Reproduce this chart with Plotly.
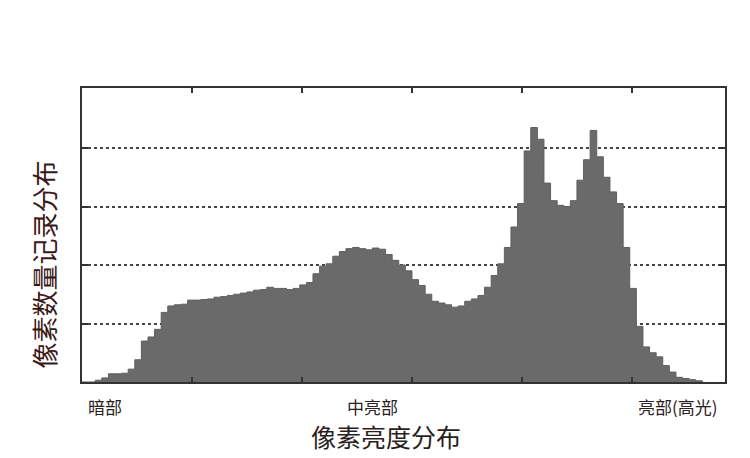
import plotly.graph_objects as go

# brightness bins (left edge of each 3-unit bin) and pixel counts (arbitrary units)
bins = list(range(0, 285, 3))
counts = [
    0.00, 0.00, 0.03, 0.07, 0.14, 0.14, 0.15, 0.22, 0.38, 0.70,
    0.77, 0.90, 1.19, 1.30, 1.32, 1.33, 1.40, 1.40, 1.41, 1.42,
    1.45, 1.46, 1.48, 1.50, 1.52, 1.54, 1.57, 1.58, 1.62, 1.60,
    1.60, 1.58, 1.60, 1.66, 1.70, 1.85, 1.98, 2.02, 2.15, 2.23,
    2.28, 2.30, 2.28, 2.26, 2.29, 2.27, 2.18, 2.08, 2.00, 1.90,
    1.75, 1.65, 1.50, 1.38, 1.35, 1.32, 1.28, 1.30, 1.38, 1.42,
    1.48, 1.62, 1.82, 2.02, 2.30, 2.65, 3.05, 3.95, 4.35, 4.15,
    3.40, 3.10, 3.02, 3.00, 3.10, 3.45, 3.80, 4.30, 3.85, 3.50,
    3.25, 3.05, 2.30, 1.60, 0.95, 0.60, 0.50, 0.43, 0.28, 0.17,
    0.08, 0.06, 0.04, 0.02, 0.00,
]
x_ticks = [50, 100, 150, 200, 250]
y_ticks = [1, 2, 3, 4]
zone_labels = ["暗部", "中亮部", "亮部(高光)"]
zone_pos = [10.5, 132, 271]
x_title = "像素亮度分布"
y_title = "像素数量记录分布"

font_cjk = "Noto Sans CJK SC"

fig = go.Figure()
fig.add_trace(go.Scatter(
    x=bins, y=counts, mode="lines", line_shape="hv",
    line=dict(color="#5f5f5f", width=1),
    fill="tozeroy", fillcolor="#6a6a6a", hoverinfo="skip",
))

for lab, pos in zip(zone_labels, zone_pos):
    fig.add_annotation(
        x=pos, xref="x", y=0, yref="paper", yanchor="top", yshift=-10,
        text=lab, showarrow=False,
        font=dict(family=font_cjk, size=17, color="#2a2222"),
    )

fig.add_annotation(
    x=138, xref="x", y=0, yref="paper", yanchor="middle", yshift=-54,
    text=x_title, showarrow=False,
    font=dict(family=font_cjk, size=25, color="#2a1e1e"),
)
fig.add_annotation(
    x=0, xref="paper", xshift=-39, xanchor="center",
    y=0.40, yref="paper", yanchor="middle",
    text=y_title, textangle=-90, showarrow=False,
    font=dict(family=font_cjk, size=26, color="#3b1818"),
)

fig.update_xaxes(
    range=[0, 292.3], tickvals=x_ticks, showticklabels=False,
    ticks="inside", ticklen=5, tickwidth=1.5, tickcolor="#333",
    showline=True, linewidth=1.5, linecolor="#333", mirror="ticks",
    showgrid=False, zeroline=False,
)
fig.update_yaxes(
    range=[0, 5.026], tickvals=y_ticks, showticklabels=False,
    ticks="inside", ticklen=6, tickwidth=1.5, tickcolor="#333",
    showline=True, linewidth=1.5, linecolor="#333", mirror="ticks",
    showgrid=True, gridcolor="#444", griddash="dot", gridwidth=1.5,
    zeroline=False,
)
# page body has an 8px margin, so the figure is 742x450
fig.update_layout(
    width=742, height=450,
    margin=dict(l=74, r=25, t=80, b=76),
    paper_bgcolor="white", plot_bgcolor="white",
    showlegend=False,
)
fig.write_html("out.html")
